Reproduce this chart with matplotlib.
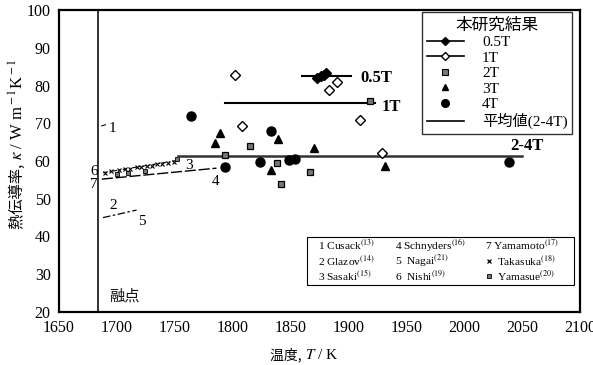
import matplotlib
matplotlib.use("Agg")
import matplotlib.pyplot as plt
from matplotlib.lines import Line2D
from matplotlib.patches import Rectangle
from matplotlib.font_manager import FontProperties

plt.rcParams['mathtext.fontset'] = 'stix'
plt.rcParams['font.family'] = ['Liberation Serif', 'Noto Sans CJK JP', 'DejaVu Serif']

# ---------------- data ----------------
melting_T = 1684

# this study
t05_T = [1873, 1876, 1879, 1881]
t05_k = [81.9, 82.4, 82.8, 83.2]
t1_T = [1802, 1808, 1883, 1890, 1910, 1929]
t1_k = [82.8, 69.4, 78.8, 81.0, 70.9, 62.0]
t2_T = [1793, 1815, 1838, 1842, 1867, 1919]
t2_k = [61.6, 64.0, 59.6, 53.9, 57.2, 76.0]
t3_T = [1785, 1789, 1833, 1839, 1870, 1932]
t3_k = [64.9, 67.5, 57.6, 65.7, 63.4, 58.7]
t4_T = [1764, 1793, 1824, 1833, 1849, 1854, 2039]
t4_k = [72.0, 58.3, 59.8, 67.9, 60.3, 60.6, 59.8]

# mean lines
mean05_T = [1860, 1902]
mean05_k = [82.6, 82.6]
mean1_T = [1793, 1923]
mean1_k = [75.4, 75.4]
mean24_T = [1753, 2050]
mean24_k = [61.3, 61.3]

# literature
lit1_T = [1687, 1690]
lit1_k = [69.3, 69.6]
lit25_T = [1688, 1717]
lit25_k = [45.0, 47.0]
lit36_T = [1688, 1755]
lit36_k = [56.9, 60.3]
lit47_T = [1687, 1786]
lit47_k = [55.2, 58.1]
taka_T = [1690, 1695, 1702, 1707, 1711, 1717, 1721, 1726, 1730, 1735, 1739, 1744, 1749]
taka_k = [56.9, 57.3, 57.6, 57.8, 58.0, 58.3, 58.5, 58.6, 58.8, 59.1, 59.2, 59.4, 59.8]
yama_T = [1700, 1710, 1724, 1752]
yama_k = [56.6, 56.7, 57.4, 60.5]

xticks = [1650, 1700, 1750, 1800, 1850, 1900, 1950, 2000, 2050, 2100]
yticks = [20, 30, 40, 50, 60, 70, 80, 90, 100]

# ---------------- figure ----------------
fig = plt.figure(figsize=(5.93, 3.65), dpi=100)
ax = fig.add_axes([59/593, 1-312/365, (580-59)/593, (312-10)/365])
ax.set_xlim(1650, 2100)
ax.set_ylim(20, 100)
ax.set_xticks(xticks)
ax.set_yticks(yticks)
ax.tick_params(length=0, labelsize=11.5, pad=6)
for s in ax.spines.values():
    s.set_linewidth(1.6)

# melting point
ax.axvline(melting_T, color='#222222', lw=1.3)
ax.text(1693, 23, '融点', fontsize=11, family=['Noto Sans CJK JP'], color='#111111')

# literature lines
ax.plot(lit1_T, lit1_k, color='k', lw=0.8)
ax.plot(lit25_T, lit25_k, color='k', lw=0.9, ls=(0, (6, 2, 2, 2)))
ax.plot(lit36_T, lit36_k, color='k', lw=0.8, ls=(0, (4, 2, 1, 2)))
ax.plot(lit47_T, lit47_k, color='k', lw=1.0, ls=(0, (8, 2)))
ax.plot(taka_T, taka_k, ls='none', marker='x', ms=2.5, mew=0.8, color='k')
ax.plot(yama_T, yama_k, ls='none', marker='s', ms=3.2, mfc='#777777', mec='k', mew=0.6)

lit_labels = [('1', 1696, 68.7), ('2', 1697, 48.3), ('5', 1721.5, 43.9),
              ('3', 1762, 58.9), ('4', 1785, 54.5), ('6', 1680, 57.2), ('7', 1680.5, 53.9)]
for lab, x, y in lit_labels:
    ax.text(x, y, lab, fontsize=11, ha='center', va='center')

# mean lines
ax.plot(mean05_T, mean05_k, color='k', lw=1.5)
ax.plot(mean1_T, mean1_k, color='k', lw=1.5)
ax.plot(mean24_T, mean24_k, color='#333333', lw=1.8)
ax.text(1910, 82.0, '0.5T', fontsize=12, fontweight='bold', va='center')
ax.text(1929, 74.4, '1T', fontsize=12, fontweight='bold', va='center')
ax.text(2040, 61.8, '2-4T', fontsize=12, fontweight='bold', va='bottom')

# data points
ax.plot(t05_T, t05_k, ls='none', marker='D', ms=5, color='k')
ax.plot(t1_T, t1_k, ls='none', marker='D', ms=5.5, mfc='white', mec='k', mew=1.0)
ax.plot(t2_T, t2_k, ls='none', marker='s', ms=5, mfc='#777777', mec='k', mew=0.9)
ax.plot(t3_T, t3_k, ls='none', marker='^', ms=6, color='k')
ax.plot(t4_T, t4_k, ls='none', marker='o', ms=6.5, color='k')

# legend of this study
handles = [
    Line2D([], [], color='k', lw=1.2, marker='D', ms=4.5),
    Line2D([], [], color='k', lw=1.2, marker='D', ms=4.5, mfc='white'),
    Line2D([], [], ls='none', marker='s', ms=4.5, mfc='#777777', mec='k', mew=0.8),
    Line2D([], [], ls='none', marker='^', ms=5, color='k'),
    Line2D([], [], ls='none', marker='o', ms=5.5, color='k'),
    Line2D([], [], color='k', lw=1.2),
]
labels = ['0.5T', '1T', '2T', '3T', '4T', '平均値(2-4T)']
leg = ax.legend(handles, labels, loc='upper right', bbox_to_anchor=(0.985, 0.993),
                borderaxespad=0, frameon=True, fancybox=False, edgecolor='k',
                prop=FontProperties(family=['Liberation Serif', 'Noto Sans CJK JP'], size=11),
                title='本研究結果', handlelength=2.4, handletextpad=1.2,
                labelspacing=0.12, borderpad=0.3)
leg.get_title().set_fontproperties(FontProperties(family=['Noto Sans CJK JP'], size=12))
leg.get_frame().set_linewidth(1.0)
leg._legend_box.align = 'center'

# literature legend box
ax.add_patch(Rectangle((0.476, 0.090), 0.512, 0.160, transform=ax.transAxes,
                       fill=False, lw=0.8, ec='k', zorder=5))
lit_rows = [
    ['1 Cusack$^{(13)}$', '4 Schnyders$^{(16)}$', '7 Yamamoto$^{(17)}$'],
    ['2 Glazov$^{(14)}$', '5  Nagai$^{(21)}$', 'Takasuka$^{(18)}$'],
    ['3 Sasaki$^{(15)}$', '6  Nishi$^{(19)}$', 'Yamasue$^{(20)}$'],
]
row_y = [0.221, 0.170, 0.119]
col_x = [0.497, 0.645, 0.818]
for r, row in enumerate(lit_rows):
    for c, txt in enumerate(row):
        xx = col_x[c] + (0.022 if (c == 2 and r > 0) else 0)
        ax.text(xx, row_y[r], txt, transform=ax.transAxes, fontsize=8.2,
                va='center', ha='left', zorder=6)
ax.plot([0.826], [row_y[1]], transform=ax.transAxes, marker='x', ms=3, mew=0.9,
        color='k', clip_on=False, zorder=6)
ax.plot([0.826], [row_y[2]], transform=ax.transAxes, marker='s', ms=3.5,
        mfc='#777777', mec='k', mew=0.6, clip_on=False, zorder=6)

# axis labels
fig.text(0.030, 1-160/365, '熱伝導率, ', rotation=90, ha='center', va='top',
         fontsize=11, family=['Noto Sans CJK JP'])
fig.text(0.030, 1-160/365, r'$\kappa$ / W m$^{\rm -1}$K$^{\rm -1}$', rotation=90,
         ha='center', va='bottom', fontsize=12, family=['Liberation Serif'])
fig.text(305/593, 1-355/365, '温度, ', ha='right', va='center', fontsize=10,
         family=['Noto Sans CJK JP'])
fig.text(305/593, 1-355/365, '$T$ / K', ha='left', va='center', fontsize=11,
         family=['Liberation Serif'])

fig.savefig('out.png', dpi=100)
